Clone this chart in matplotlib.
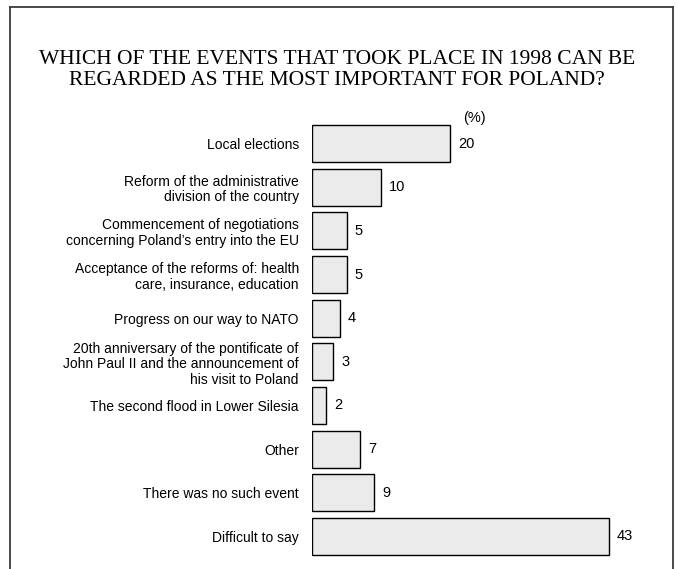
import matplotlib

matplotlib.use("Agg")
import matplotlib.pyplot as plt
from matplotlib.lines import Line2D

TITLE = "WHICH OF THE EVENTS THAT TOOK PLACE IN 1998 CAN BE\nREGARDED AS THE MOST IMPORTANT FOR POLAND?"
labels = [
    "Local elections",
    "Reform of the administrative\ndivision of the country",
    "Commencement of negotiations\nconcerning Poland\u2019s entry into the EU",
    "Acceptance of the reforms of: health\ncare, insurance, education",
    "Progress on our way to NATO",
    "20th anniversary of the pontificate of\nJohn Paul II and the announcement of\nhis visit to Poland",
    "The second flood in Lower Silesia",
    "Other",
    "There was no such event",
    "Difficult to say",
]
values = [20, 10, 5, 5, 4, 3, 2, 7, 9, 43]

BAR_FILL = "#ebebeb"
FRAME = "#3a3a3a"
W, H = 678, 569

fig = plt.figure(figsize=(W / 100, H / 100), dpi=100)
fig.patch.set_facecolor("white")

# outer frame: left, top, right (bottom is cut off in the original)
x0, x1, yt = 10 / W, 673 / W, 1 - 7 / H
for xs, ys in [([x0, x0], [0, yt]), ([x0, x1], [yt, yt]), ([x1, x1], [yt, 0])]:
    fig.add_artist(Line2D(xs, ys, color=FRAME, linewidth=1.3, transform=fig.transFigure))

fig.text(337 / W, 1 - 70 / H, TITLE, ha="center", va="center",
         family="Liberation Serif", fontsize=15.5, linespacing=1.2)

# axes placed so 0 sits at x=312px and one unit ~6.9px
left_px, right_px = 312, 312 + 6.9 * 50
top_px, bot_px = 121.7, 558.3
ax = fig.add_axes([left_px / W, 1 - bot_px / H, (right_px - left_px) / W, (bot_px - top_px) / H])
ypos = list(range(len(values)))
ax.barh(ypos, values, height=0.85, color=BAR_FILL, edgecolor="black", linewidth=1.0)
ax.set_xlim(0, 50)
ax.set_ylim(len(values) - 0.5, -0.5)
ax.set_yticks(ypos, labels)
ax.tick_params(axis="y", length=0, pad=9.5)
ax.set_xticks([])
for lab in ax.get_yticklabels():
    lab.set_family("Liberation Sans")
    lab.set_fontsize(10)
    lab.set_linespacing(1.15)
for s in ax.spines.values():
    s.set_visible(False)

for y, v in zip(ypos, values):
    ax.annotate(str(v), xy=(v, y), xytext=(6, 0), textcoords="offset points",
                va="center", ha="left", family="Liberation Sans", fontsize=10.5)

fig.text(463 / W, 1 - 118 / H, "(%)", ha="left", va="center",
         family="Liberation Sans", fontsize=10.5)

fig.savefig("out.png", dpi=100)
